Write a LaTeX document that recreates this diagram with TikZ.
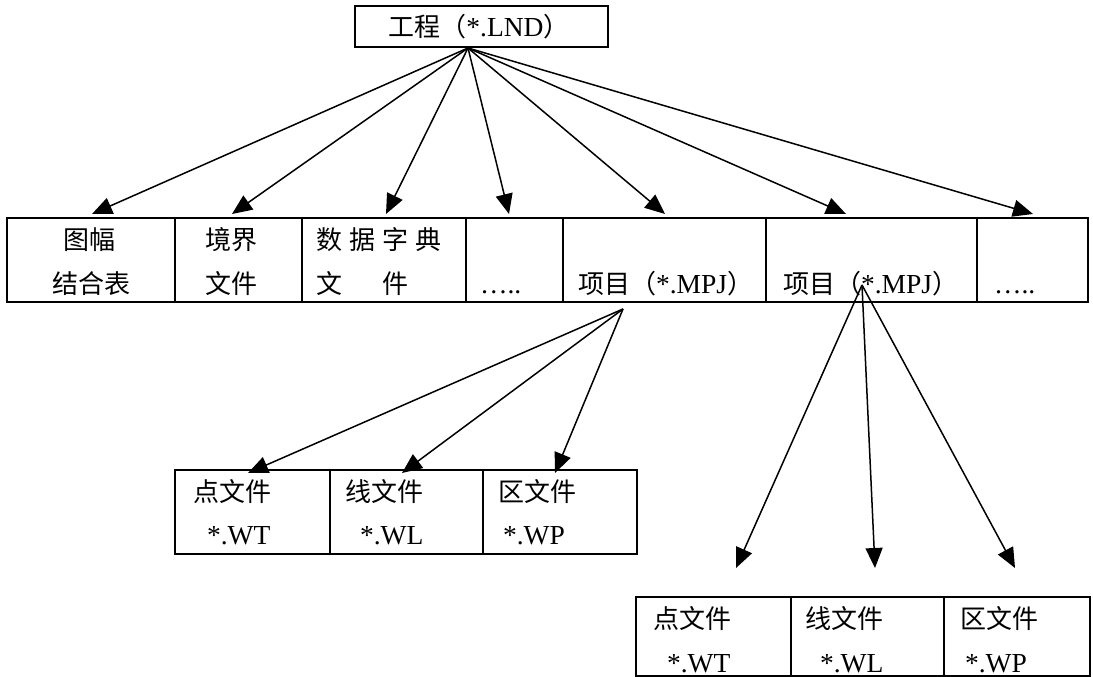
\documentclass[tikz,border=0pt]{standalone}
\usepackage{fontspec}
\setmainfont{Liberation Serif}
\newfontfamily\cjk{Noto Sans CJK SC}
\usetikzlibrary{arrows.meta}
\newcommand{\fs}{\fontsize{26}{30}\selectfont}
\newcommand{\C}[1]{{\cjk #1}}
\newcommand{\lat}[1]{{\fontsize{27.5}{30}\selectfont #1}}
\tikzset{
  box/.style={draw, line width=1.8pt, inner sep=0pt, outer sep=0pt},
  txt/.style={inner sep=0pt, outer sep=0pt, anchor=base west, font=\fs},
  arr/.style={line width=1.5pt, -{Triangle[length=20pt,width=17pt]}}
}
\begin{document}
\begin{tikzpicture}[x=1pt,y=-1pt]
\useasboundingbox (0,0) rectangle (1093,677);
% top box
\node[box, minimum width=253pt, minimum height=41pt] (top) at (481.5,26.5) {};
\node[txt, anchor=base] (toptxt) at (479,37) {\C{工程（}\lat{*.LND}\C{）}};
% row of cells
\node[box, minimum width=168pt, minimum height=84pt] (c1) at (91,260) {};
\node[box, minimum width=127pt, minimum height=84pt] (c2) at (238.5,260) {};
\node[box, minimum width=164pt, minimum height=84pt] (c3) at (384,260) {};
\node[box, minimum width=97pt, minimum height=84pt] (c4) at (514.5,260) {};
\node[box, minimum width=203pt, minimum height=84pt] (c5) at (664.5,260) {};
\node[box, minimum width=211pt, minimum height=84pt] (c6) at (871.5,260) {};
\node[box, minimum width=111pt, minimum height=84pt] (c7) at (1032.5,260) {};
\node[txt] (c1a) at (63,249) {\C{图幅}};
\node[txt] (c1b) at (52,293) {\C{结合表}};
\node[txt] (c2a) at (205,249) {\C{境界}};
\node[txt] (c2b) at (205,293) {\C{文件}};
\node[txt] (c3a) at (316,249) {\C{数\hspace{0.28em}据\hspace{0.28em}字\hspace{0.28em}典}};
\node[txt] (c3b) at (316,293) {\C{文\hspace{1.56em}件}};
\node[txt] (c4b) at (480,293) {\lat{…..}};
\node[txt] (c5b) at (578,293) {\C{项目（}\lat{*.MPJ}\C{）}};
\node[txt] (c6b) at (783,293) {\C{项目（}\lat{*.MPJ}\C{）}};
\node[txt] (c7b) at (994,293) {\lat{…..}};
% lower box 1
\node[box, minimum width=155pt, minimum height=84pt] (p1) at (252.5,512) {};
\node[box, minimum width=153pt, minimum height=84pt] (l1) at (406.5,512) {};
\node[box, minimum width=154pt, minimum height=84pt] (a1) at (560,512) {};
\node[txt] (p1a) at (193,501) {\C{点文件}};
\node[txt] (p1b) at (207,544) {\lat{*.WT}};
\node[txt] (l1a) at (345,501) {\C{线文件}};
\node[txt] (l1b) at (360,544) {\lat{*.WL}};
\node[txt] (a1a) at (498,501) {\C{区文件}};
\node[txt] (a1b) at (503,544) {\lat{*.WP}};
% lower box 2
\node[box, minimum width=155pt, minimum height=79pt] (p2) at (713.5,636.5) {};
\node[box, minimum width=153pt, minimum height=79pt] (l2) at (867.5,636.5) {};
\node[box, minimum width=146pt, minimum height=79pt] (a2) at (1017,636.5) {};
\node[txt] (p2a) at (653,628) {\C{点文件}};
\node[txt] (p2b) at (667,672) {\lat{*.WT}};
\node[txt] (l2a) at (805,628) {\C{线文件}};
\node[txt] (l2b) at (820,672) {\lat{*.WL}};
\node[txt] (a2a) at (960,628) {\C{区文件}};
\node[txt] (a2b) at (965,672) {\lat{*.WP}};
% connector points
\coordinate (s1) at (468,48);
\coordinate (s2) at (623,309);
\coordinate (s3) at (862,285);
\coordinate (t1) at (92,214);
\coordinate (t2) at (232,214);
\coordinate (t3) at (386,214);
\coordinate (t4) at (509,214);
\coordinate (t5) at (665,214);
\coordinate (t6) at (846,214);
\coordinate (t7) at (1033,214);
\coordinate (u1) at (248,473);
\coordinate (u2) at (402,473);
\coordinate (u3) at (555,473);
\coordinate (v1) at (736,568);
\coordinate (v2) at (875,568);
\coordinate (v3) at (1015,568);
\foreach \t in {t1,t2,t3,t4,t5,t6,t7} \draw[arr] (s1) -- (\t);
\foreach \t in {u1,u2,u3} \draw[arr] (s2) -- (\t);
\foreach \t in {v1,v2,v3} \draw[arr] (s3) -- (\t);
\end{tikzpicture}
\end{document}
